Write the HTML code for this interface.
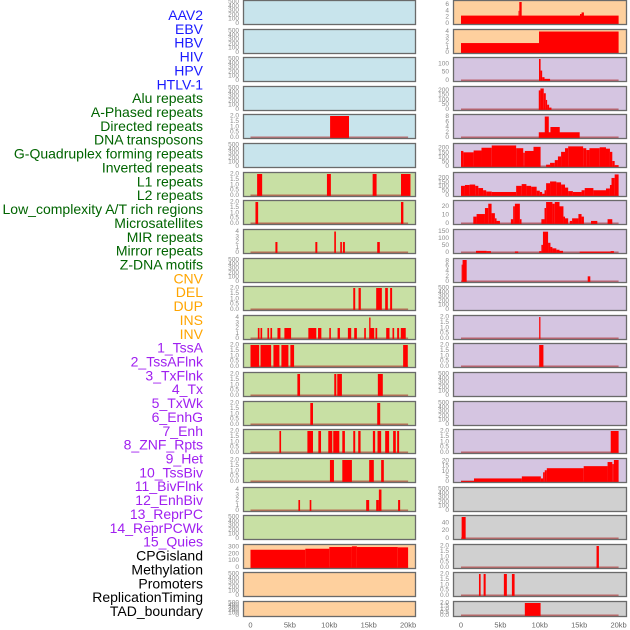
<!DOCTYPE html>
<html><head><meta charset="utf-8"><style>
html,body{margin:0;padding:0;background:#fff;}
svg{display:block;font-family:"Liberation Sans",sans-serif;}
</style></head><body>
<svg id="chart" width="630" height="630" viewBox="0 0 630 630" xmlns="http://www.w3.org/2000/svg"></svg>
<script>
const trackLabels=["AAV2","EBV","HBV","HIV","HPV","HTLV-1","Alu repeats","A-Phased repeats","Directed repeats","DNA transposons","G-Quadruplex forming repeats","Inverted repeats","L1 repeats","L2 repeats","Low_complexity A/T rich regions","Microsatellites","MIR repeats","Mirror repeats","Z-DNA motifs","CNV","DEL","DUP","INS","INV","1_TssA","2_TssAFlnk","3_TxFlnk","4_Tx","5_TxWk","6_EnhG","7_Enh","8_ZNF_Rpts","9_Het","10_TssBiv","11_BivFlnk","12_EnhBiv","13_ReprPC","14_ReprPCWk","15_Quies","CPGisland","Methylation","Promoters","ReplicationTiming","TAD_boundary"];
const labelColors=["#1a1aff","#1a1aff","#1a1aff","#1a1aff","#1a1aff","#1a1aff","#006400","#006400","#006400","#006400","#006400","#006400","#006400","#006400","#006400","#006400","#006400","#006400","#006400","#ffa500","#ffa500","#ffa500","#ffa500","#ffa500","#a020f0","#a020f0","#a020f0","#a020f0","#a020f0","#a020f0","#a020f0","#a020f0","#a020f0","#a020f0","#a020f0","#a020f0","#a020f0","#a020f0","#a020f0","#000","#000","#000","#000","#000"];
const xTicks=[0,5,10,15,20];
const xTickLabels=["0","5kb","10kb","15kb","20kb"];
const ticksEmpty=[0,100,200,300,400,500];
const ticks2=[0,0.5,1,1.5,2];
const ticks4=[0,1,2,3,4];
const ticks8=[0,2,4,6,8];
const ticks200=[0,50,100,150,200];
// segments: [startKb, endKb, value]
const dataEBV=[[0,20,2.5],[7.4,7.7,7],[7.3,7.4,4],[15.1,15.3,3],[15.3,15.6,3.5]];
const dataHIV=[[0,9.9,1.8],[9.9,20,4]];
const dataHTLV=[[9.9,10.1,130],[10.1,10.3,60],[10.3,10.6,20],[10.6,11.3,10]];
const dataAPhased=[[9.87,10.08,200],[10.08,10.5,220],[10.5,10.76,170],[10.76,10.93,100],[10.93,11.18,50],[11.18,11.48,20]];
const dataDirected=[[10.1,12.5,2]];
const dataDNATrans=[[9.87,15.06,2],[10.63,11.14,8],[11.35,12.53,4]];
const dataInverted=[[0,0.3,170],[0.3,1.6,155],[1.6,2.6,175],[2.6,3.9,205],[3.9,7.0,230],[7.0,7.9,200],[7.9,8.1,150],[8.1,9.2,170],[9.2,10.1,215],[10.8,11.3,20],[11.3,11.9,40],[11.9,12.3,70],[12.3,12.7,110],[12.7,13.2,160],[13.2,13.6,200],[13.6,15.5,220],[15.5,15.9,200],[15.9,16.3,180],[16.3,17.6,200],[17.6,18.4,210],[18.4,18.9,195],[18.9,19.2,160],[19.2,19.5,60],[19.5,20,15]];
const dataL1=[[0.84,1.48,2],[9.7,10.2,2],[15.5,16.0,2],[19.1,20.3,2]];
const dataL2=[[0,0.5,110],[0.5,1.1,120],[1.1,1.8,125],[1.8,2.2,110],[2.2,2.8,85],[2.8,3.2,60],[3.2,3.9,45],[3.9,7.0,40],[7.0,7.7,110],[7.7,8.3,130],[8.3,8.9,110],[8.9,9.6,100],[9.6,10.0,55],[10.0,10.3,40],[10.3,10.6,20],[10.6,10.8,60],[10.8,11.3,140],[11.3,12.1,160],[12.1,12.7,150],[12.7,13.2,125],[13.2,13.6,90],[13.6,14.2,50],[14.2,15.3,40],[15.3,15.7,60],[15.7,16.8,85],[16.8,18.4,60],[18.4,18.9,80],[18.9,19.1,120],[19.1,19.5,200],[19.5,20,240]];
const dataLowCx=[[0.63,0.97,2],[19.1,19.4,2]];
const dataMicro=[[1.56,1.98,8],[1.98,3.04,11],[3.04,3.46,18],[3.46,3.88,23],[3.88,4.3,12],[4.3,4.51,6],[4.51,4.94,3],[6.33,6.62,5],[6.62,6.84,20],[6.84,7.47,23],[7.47,7.68,5],[10.2,10.6,5],[10.6,10.8,18],[10.8,11.6,25],[11.6,11.9,23],[11.9,12.5,25],[12.5,13.0,20],[13.0,13.2,8],[13.2,13.6,6],[13.8,14.1,3],[14.1,14.9,6],[14.9,15.3,11],[15.3,15.6,8],[16.5,17.3,3],[18.6,19.2,5]];
const dataMIR=[[3.16,3.42,2],[8.23,8.48,2],[10.63,10.84,4],[11.39,11.6,2],[11.73,11.98,2],[16.08,16.41,2]];
const dataMirror=[[1.9,3.25,12],[3.25,3.8,10],[6.84,7.26,8],[9.92,10.2,10],[10.2,10.4,55],[10.4,11.05,150],[11.05,11.35,70],[11.35,11.6,40],[11.6,12.1,30],[12.1,12.5,20],[12.5,12.95,12],[15.06,18.99,7],[18.99,19.4,10]];
const dataCNV=[[0.08,0.2,6.5],[0.2,0.72,8.3],[16.08,16.41,2]];
const dataDEL=[[13.04,13.29,2],[13.71,14.0,2],[15.95,16.67,2],[17.09,17.43,2],[17.72,17.97,2]];
const dataINS=[[0.93,1.14,2],[1.27,1.48,2],[2.15,2.36,2],[2.53,2.74,2],[3.42,3.8,2],[4.3,5.15,2],[7.34,8.35,2],[8.57,8.99,2],[10.0,10.2,2],[11.05,11.35,2],[12.36,12.78,2],[13.16,13.5,2],[14.43,14.64,2],[15.06,15.23,4],[15.23,15.7,2],[15.86,16.08,2],[17.22,17.64,2],[18.02,18.23,2],[18.61,18.86,2],[19.07,19.7,2]];
const dataINV=[[9.92,10.08,2]];
const dataTssA=[[0,1.1,2],[1.27,2.62,2],[2.91,3.67,2],[3.92,4.81,2],[5.06,5.53,2],[19.37,19.96,2]];
const dataTssAFlnk=[[9.92,10.46,2]];
const dataTxFlnk=[[5.95,6.29,2],[10.63,10.89,2],[11.01,11.6,2],[16.16,16.79,2]];
const dataTxWk=[[7.59,7.93,2],[16.08,16.46,2]];
const dataEnh=[[3.67,3.88,2],[7.22,7.93,2],[8.61,8.95,2],[9.87,10.38,2],[10.5,11.27,2],[11.65,11.98,2],[13.04,13.29,2],[13.67,13.97,2],[15.53,15.82,2],[16.12,16.58,2],[17.09,17.59,2],[18.1,18.44,2],[18.61,18.86,2]];
const dataZNF=[[19.0,20.0,2]];
const dataHet=[[10.08,10.59,2],[11.65,12.87,2],[15.06,15.65,2],[16.58,16.92,2]];
const dataTssBiv=[[0,1.65,0.5],[1.65,7.72,3],[7.72,10.13,5],[10.13,10.42,3],[10.42,10.63,9],[10.63,10.89,11],[10.89,15.57,13],[15.57,18.6,15],[18.6,19.2,19],[19.2,19.4,17],[19.4,20,21]];
const dataBivFlnk=[[6.08,6.29,2],[7.51,7.72,2],[14.68,15.06,2],[15.95,16.29,2],[16.29,16.62,4],[18.73,18.99,2]];
const dataReprPCWk=[[0.08,0.59,55]];
const dataQuies=[[0,6.96,260],[6.96,10.0,275],[10.0,12.87,300],[12.87,13.5,310],[13.5,18.69,300],[18.69,20.0,295]];
const dataCPG=[[17.2,17.5,2]];
const dataPromoters=[[2.28,2.49,2],[2.87,3.13,2],[5.44,5.82,2],[6.46,6.8,2]];
const dataTAD=[[8.1,10.1,2]];

const BLUE="#c8e4ec",GREEN="#c8e0a4",PEACH="#fed09e",LAV="#d5c5e1",GRAY="#d0d0d0";
// [row, side, bg, vmax, ticks, tickDigits, data]
const panels=[
[0,0,BLUE,500,ticksEmpty,0,null],[0,1,PEACH,6.8,[0,2,4,6],0,dataEBV],
[1,0,BLUE,500,ticksEmpty,0,null],[1,1,PEACH,4.1,ticks4,0,dataHIV],
[2,0,BLUE,500,ticksEmpty,0,null],[2,1,LAV,130,[0,50,100],0,dataHTLV],
[3,0,BLUE,500,ticksEmpty,0,null],[3,1,LAV,225,ticks200,0,dataAPhased],
[4,0,BLUE,2,ticks2,1,dataDirected],[4,1,LAV,8.2,ticks8,0,dataDNATrans],
[5,0,BLUE,500,ticksEmpty,0,null],[5,1,LAV,235,ticks200,0,dataInverted],
[6,0,GREEN,2,ticks2,1,dataL1],[6,1,LAV,245,ticks200,0,dataL2],
[7,0,GREEN,2,ticks2,1,dataLowCx],[7,1,LAV,25,[0,10,20],0,dataMicro],
[8,0,GREEN,4.1,ticks4,0,dataMIR],[8,1,LAV,155,[0,50,100,150],0,dataMirror],
[9,0,GREEN,500,ticksEmpty,0,null],[9,1,LAV,8.3,ticks8,0,dataCNV],
[10,0,GREEN,2,ticks2,1,dataDEL],[10,1,LAV,500,ticksEmpty,0,null],
[11,0,GREEN,4.1,ticks4,0,dataINS],[11,1,LAV,2,ticks2,1,dataINV],
[12,0,GREEN,2,ticks2,1,dataTssA],[12,1,LAV,2,ticks2,1,dataTssAFlnk],
[13,0,GREEN,2,ticks2,1,dataTxFlnk],[13,1,LAV,500,ticksEmpty,0,null],
[14,0,GREEN,2,ticks2,1,dataTxWk],[14,1,LAV,500,ticksEmpty,0,null],
[15,0,GREEN,2,ticks2,1,dataEnh],[15,1,LAV,2,ticks2,1,dataZNF],
[16,0,GREEN,2,ticks2,1,dataHet],[16,1,LAV,21,[0,5,10,15,20],0,dataTssBiv],
[17,0,GREEN,4.1,ticks4,0,dataBivFlnk],[17,1,GRAY,500,ticksEmpty,0,null],
[18,0,GREEN,500,ticksEmpty,0,null],[18,1,GRAY,55,[0,20,40],0,dataReprPCWk],
[19,0,PEACH,315,[0,100,200,300],0,dataQuies],[19,1,GRAY,2,ticks2,1,dataCPG],
[20,0,PEACH,500,ticksEmpty,0,null],[20,1,GRAY,2,ticks2,1,dataPromoters],
[21,0,PEACH,500,ticksEmpty,0,null],[21,1,GRAY,2,ticks2,1,dataTAD]
];
const NS="http://www.w3.org/2000/svg";
const svg=document.getElementById('chart');
function mk(tag,attrs,parent){const e=document.createElementNS(NS,tag);for(const k in attrs)e.setAttribute(k,attrs[k]);(parent||svg).appendChild(e);return e;}
const colX=[243,453],colW=[173,174],zeroX=[250.5,461],kbPx=7.88;
function xScale(side,kb){return zeroX[side]+kb*kbPx;}
function rowTop(r){return Math.round(r*28.62);}
function rowH(r){return r===21?16:25;}

// labels
trackLabels.forEach((t,i)=>{
  const tx=mk('text',{x:203,y:15+i*13.86,'text-anchor':'end','dominant-baseline':'central','font-size':'14',fill:labelColors[i]});
  
  
  tx.textContent=t;
});

panels.forEach((p,pi)=>{
  const [row,side,bg,vmax,ticks,dig,data]=p;
  const top=rowTop(row),h=rowH(row),x=colX[side],w=colW[side];
  const g=mk('g',{});
  
  
  const cid='c'+pi;
  const cp=mk('clipPath',{id:cid},g);mk('rect',{x:x,y:top,width:w,height:h},cp);
  mk('rect',{x:x,y:top,width:w,height:h,fill:bg},g);
  const bottom=top+h;
  const yScale=v=>bottom-1.5-Math.min(v,vmax)/vmax*(h-3.5);
  const inner=mk('g',{'clip-path':'url(#'+cid+')'},g);
  if(data){
    mk('line',{x1:xScale(side,0),x2:xScale(side,20),y1:yScale(0),y2:yScale(0),stroke:'rgba(170,20,20,0.55)','stroke-width':2},inner);
    data.forEach(d=>{
      const x1=xScale(side,d[0]),x2=xScale(side,d[1]);
      const bar=mk('rect',{x:x1,y:yScale(d[2]),width:Math.max(0.8,x2-x1),height:bottom-yScale(d[2]),fill:'#ff0000'},inner);
      
      
    });
  }
  mk('rect',{x:x+0.5,y:top+0.5,width:w-1,height:h-1,fill:'none',stroke:'#6a6a6a','stroke-width':1.3},g);
  ticks.forEach(t=>{
    const tl=mk('text',{x:x-4,y:yScale(t),'text-anchor':'end','dominant-baseline':'central','font-size':'6.5',fill:'#8a8a8a'},g);
    
    
    tl.textContent=dig?t.toFixed(dig):String(t);
  });
});
[0,1].forEach(side=>{
  xTicks.forEach((t,i)=>{
    const tl=mk('text',{x:xScale(side,t),y:625,'text-anchor':'middle','dominant-baseline':'central','font-size':'7.5',fill:'#666'});
    
    
    tl.textContent=xTickLabels[i];
  });
});
</script>
</body></html>
